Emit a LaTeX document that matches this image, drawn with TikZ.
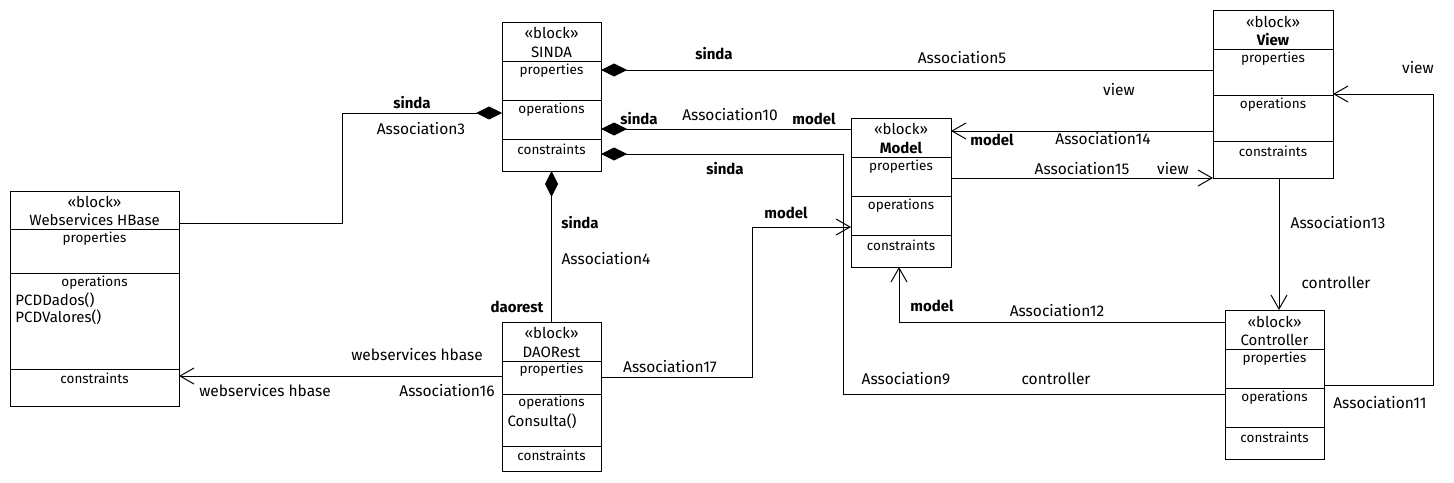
\documentclass[tikz,border=0pt]{standalone}
\usepackage{fontspec}
\setmainfont{Fira Sans}
\usetikzlibrary{arrows.meta}

\tikzset{
  block/.style={draw, anchor=north west, outer sep=0pt, inner sep=0pt},
  head/.style={align=center, font=\fontsize{15}{18.5}\selectfont},
  boxtext/.style={font=\fontsize{13.5}{15}\selectfont},
  meth/.style={anchor=west, inner sep=0pt, font=\fontsize{15}{17}\selectfont},
  lbl/.style={inner sep=0pt, font=\fontsize{15.5}{17}\selectfont},
  role/.style={inner sep=0pt, font=\bfseries\fontsize{15}{17}\selectfont},
  part/.style={{Diamond[length=26pt,width=13pt]}-},
}

\begin{document}
\begin{tikzpicture}[x=1pt, y=-1pt, line width=1pt, >={Straight Barb[length=14pt,width=16pt]}]
  \useasboundingbox (0,0) rectangle (1454,482);

  % blocks
  \node[block, minimum width=169pt, minimum height=215pt] (whb) at (10,191) {};
  \node[block, minimum width=99pt, minimum height=149pt] (sinda) at (502,22) {};
  \node[block, minimum width=99pt, minimum height=149pt] (dao) at (502,322) {};
  \node[block, minimum width=100pt, minimum height=149pt] (model) at (851,118) {};
  \node[block, minimum width=120pt, minimum height=168pt] (view) at (1213,10) {};
  \node[block, minimum width=99pt, minimum height=149pt] (ctrl) at (1225,310) {};

  \draw (whb.west |- 0,229) -- (whb.east |- 0,229);
  \draw (whb.west |- 0,273) -- (whb.east |- 0,273);
  \draw (whb.west |- 0,369) -- (whb.east |- 0,369);
  \draw (sinda.west |- 0,61) -- (sinda.east |- 0,61);
  \draw (sinda.west |- 0,100) -- (sinda.east |- 0,100);
  \draw (sinda.west |- 0,139) -- (sinda.east |- 0,139);
  \draw (dao.west |- 0,361) -- (dao.east |- 0,361);
  \draw (dao.west |- 0,394) -- (dao.east |- 0,394);
  \draw (dao.west |- 0,446) -- (dao.east |- 0,446);
  \draw (model.west |- 0,157) -- (model.east |- 0,157);
  \draw (model.west |- 0,196) -- (model.east |- 0,196);
  \draw (model.west |- 0,235) -- (model.east |- 0,235);
  \draw (view.west |- 0,49) -- (view.east |- 0,49);
  \draw (view.west |- 0,95) -- (view.east |- 0,95);
  \draw (view.west |- 0,141) -- (view.east |- 0,141);
  \draw (ctrl.west |- 0,349) -- (ctrl.east |- 0,349);
  \draw (ctrl.west |- 0,388) -- (ctrl.east |- 0,388);
  \draw (ctrl.west |- 0,427) -- (ctrl.east |- 0,427);

  % block texts
  \node[head] (whb-h) at (94.5,211) {«block»\\Webservices HBase};
  \node[boxtext] (whb-p) at (94.5,239) {properties};
  \node[boxtext] (whb-o) at (94.5,283) {operations};
  \node[meth] (whb-m1) at (15,300) {PCDDados()};
  \node[meth] (whb-m2) at (15,317) {PCDValores()};
  \node[boxtext] (whb-c) at (94.5,378) {constraints};

  \node[head] (sinda-h) at (551.5,42.5) {«block»\\SINDA};
  \node[boxtext] (sinda-p) at (551.5,71) {properties};
  \node[boxtext] (sinda-o) at (551.5,110) {operations};
  \node[boxtext] (sinda-c) at (551.5,149) {constraints};

  \node[head] (dao-h) at (551.5,342.5) {«block»\\DAORest};
  \node[boxtext] (dao-p) at (551.5,370) {properties};
  \node[boxtext] (dao-o) at (551.5,403) {operations};
  \node[meth] (dao-m1) at (507,421) {Consulta()};
  \node[boxtext] (dao-c) at (551.5,455) {constraints};

  \node[head] (model-h) at (901,138.5) {«block»\\\textbf{Model}};
  \node[boxtext] (model-p) at (901,167) {properties};
  \node[boxtext] (model-o) at (901,206) {operations};
  \node[boxtext] (model-c) at (901,245) {constraints};

  \node[head] (view-h) at (1273,31) {«block»\\\textbf{View}};
  \node[boxtext] (view-p) at (1273,59) {properties};
  \node[boxtext] (view-o) at (1273,105) {operations};
  \node[boxtext] (view-c) at (1273,151) {constraints};

  \node[head] (ctrl-h) at (1274.5,331) {«block»\\Controller};
  \node[boxtext] (ctrl-p) at (1274.5,359) {properties};
  \node[boxtext] (ctrl-o) at (1274.5,398) {operations};
  \node[boxtext] (ctrl-c) at (1274.5,437) {constraints};

  % compositions
  \draw[part] (sinda.west |- 0,113) -| (342,223) -- (whb.east |- 0,223);
  \draw[part] (sinda.east |- 0,70) -- (view.west |- 0,70);
  \draw[part] (sinda.east |- 0,129) -- (model.west |- 0,129);
  \draw[part] (sinda.east |- 0,154) -| (843,394) -- (ctrl.west |- 0,394);
  \draw[part] (sinda.south) -- (dao.north);

  % directed associations
  \draw[->] (dao.west |- 0,376) -- (whb.east |- 0,376);
  \draw[->] (dao.east |- 0,377) -| (752,227) -- (model.west |- 0,227);
  \draw[->] (view.west |- 0,131) -- (model.east |- 0,131);
  \draw[->] (model.east |- 0,178) -- (view.west |- 0,178);
  \draw[->] (view.south -| 1279,0) -- (ctrl.north -| 1279,0);
  \draw[->] (ctrl.west |- 0,322) -| (model.south -| 899,0);
  \draw[->] (ctrl.east |- 0,385) -| (1433,94) -- (view.east |- 0,94);

  % labels
  \node[role] (sinda3) at (412,103) {sinda};
  \node[lbl] (a3) at (421,129) {Association3};
  \node[role] (sinda5) at (714,54) {sinda};
  \node[lbl] (a5) at (962,58) {Association5};
  \node[role] (sinda10) at (639,119) {sinda};
  \node[lbl] (a10) at (730,115) {Association10};
  \node[role] (model10) at (814,119) {model};
  \node[role] (sinda9) at (725,169) {sinda};
  \node[lbl] (a9) at (906,379) {Association9};
  \node[lbl] (ctrl9) at (1056,379) {controller};
  \node[role] (sinda4) at (580,223) {sinda};
  \node[lbl] (a4) at (606,259) {Association4};
  \node[role] (dao4) at (517,307) {daorest};
  \node[lbl] (whb16a) at (417,355) {webservices hbase};
  \node[lbl] (whb16b) at (265,391) {webservices hbase};
  \node[lbl] (a16) at (447,391) {Association16};
  \node[role] (model17) at (786,213) {model};
  \node[lbl] (a17) at (670,367) {Association17};
  \node[role] (model14) at (992,140) {model};
  \node[lbl] (a14) at (1103,139) {Association14};
  \node[lbl] (view14) at (1119,90) {view};
  \node[lbl] (a15) at (1082,169) {Association15};
  \node[lbl] (view15) at (1173,169) {view};
  \node[lbl] (a13) at (1338,223) {Association13};
  \node[lbl] (ctrl13) at (1336,283) {controller};
  \node[role] (model12) at (932,306) {model};
  \node[lbl] (a12) at (1057,311) {Association12};
  \node[lbl] (view11) at (1418,68) {view};
  \node[lbl] (a11) at (1380,403) {Association11};
\end{tikzpicture}
\end{document}
